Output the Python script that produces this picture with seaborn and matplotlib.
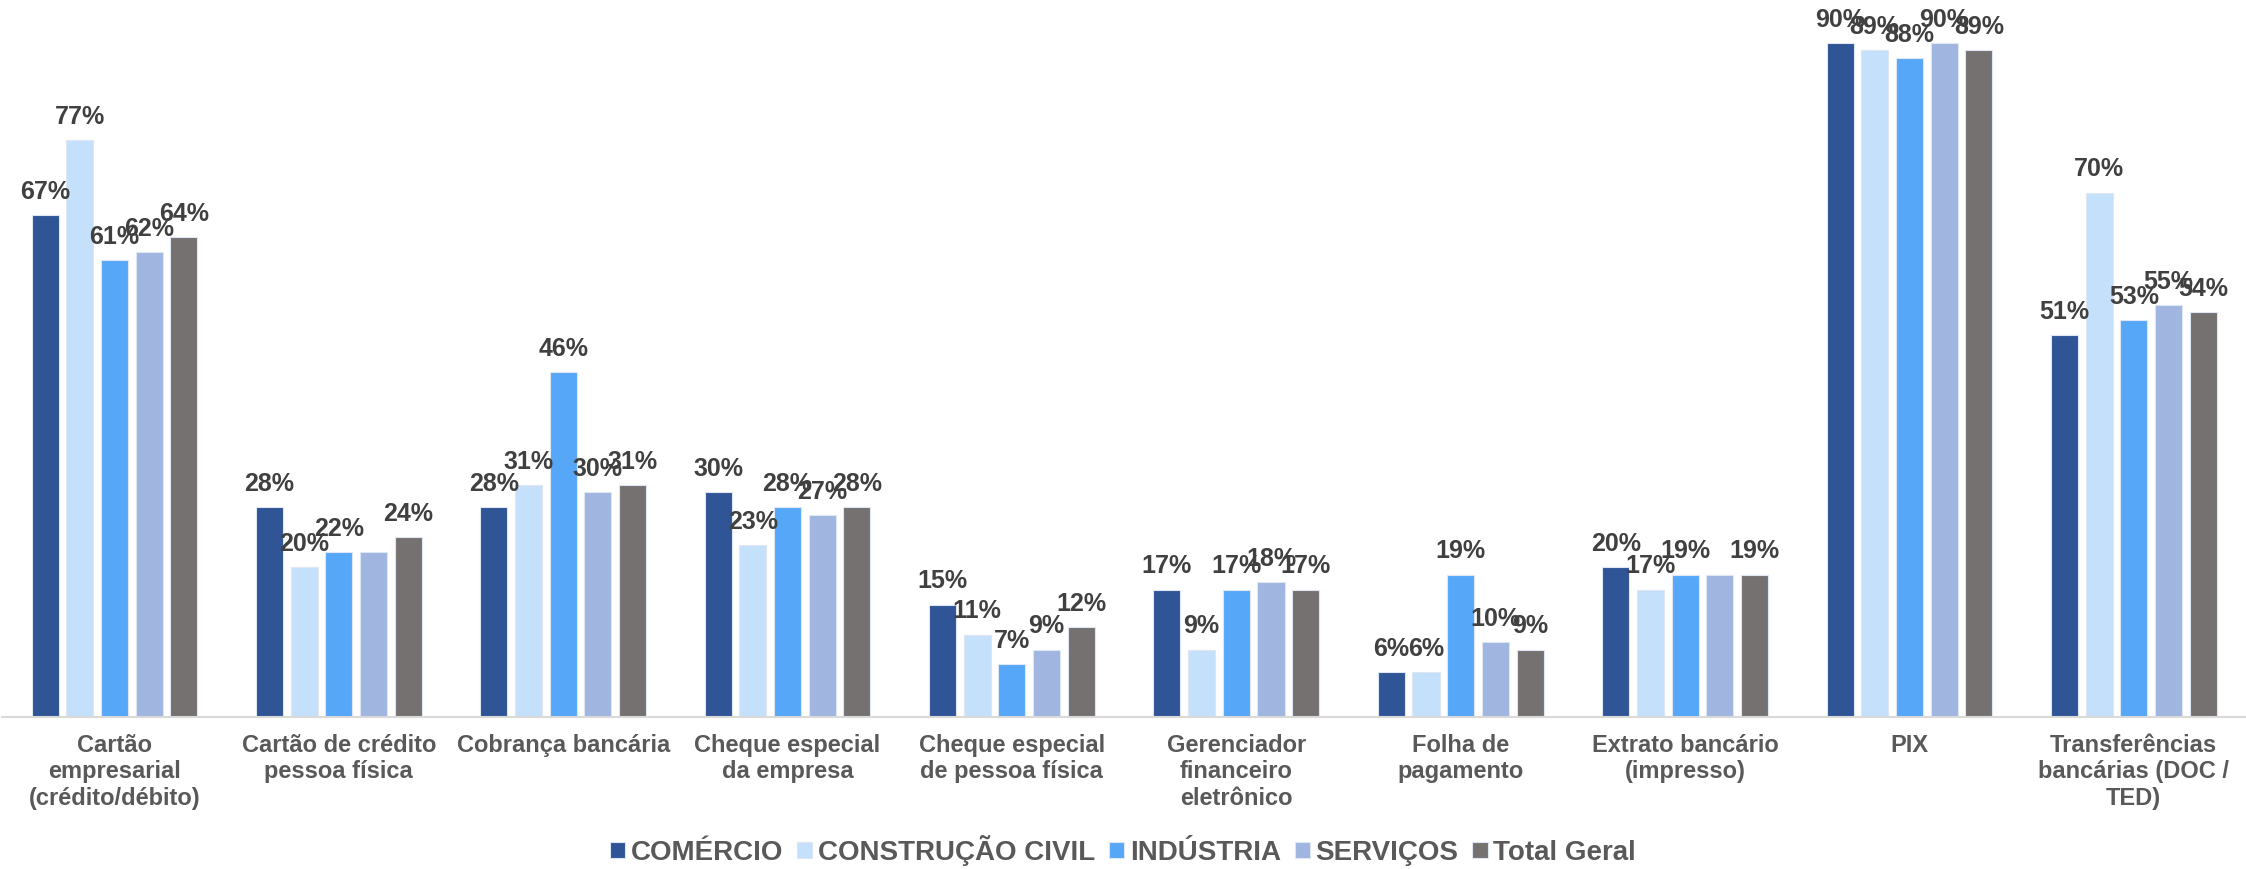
import matplotlib
matplotlib.use('Agg')
import matplotlib.pyplot as plt
from matplotlib.font_manager import FontProperties
import seaborn as sns
import pandas as pd

# 데이터
categories = [
  'Cartão\nempresarial\n(crédito/débito)',
  'Cartão de crédito\npessoa física',
  'Cobrança bancária',
  'Cheque especial\nda empresa',
  'Cheque especial\nde pessoa física',
  'Gerenciador\nfinanceiro\neletrônico',
  'Folha de\npagamento',
  'Extrato bancário\n(impresso)',
  'PIX',
  'Transferências\nbancárias (DOC /\nTED)',
]
series = ['COMÉRCIO', 'CONSTRUÇÃO CIVIL', 'INDÚSTRIA', 'SERVIÇOS', 'Total Geral']
comercio = [67, 28, 28, 30, 15, 17, 6, 20, 90, 51]
construcao = [77, 20, 31, 23, 11, 9, 6, 17, 89, 70]
industria = [61, 22, 46, 28, 7, 17, 19, 19, 88, 53]
servicos = [62, 22, 30, 27, 9, 18, 10, 19, 90, 55]
total = [64, 24, 31, 28, 12, 17, 9, 19, 89, 54]
colors = ['#2F5597', '#C5E0FB', '#56A7F8', '#A0B6E0', '#767171']

# 원본 차트에서 보이지 않는 라벨 (겹쳐서 숨겨진 것)
hidden_labels = [('SERVIÇOS', 1), ('SERVIÇOS', 7)]

values = [comercio, construcao, industria, servicos, total]
rows = []
for s, vals in zip(series, values):
  for c, v in zip(categories, vals):
    rows.append({'cat': c, 'serie': s, 'val': v})
df = pd.DataFrame(rows)

sns.set_style('white')
plt.rcParams['font.family'] = ['Liberation Sans', 'DejaVu Sans']

fig = plt.figure(figsize=(22.46, 8.69), dpi=100)
ax = fig.add_axes([0.001, 0.175, 0.999, 0.825])

sns.barplot(data=df, x='cat', y='val', hue='serie', order=categories, hue_order=series,
            palette=colors, width=0.773, gap=0.22, edgecolor='#dde6f2', linewidth=0.8,
            saturation=1, ax=ax)

# 데이터 라벨
for s, cont in zip(series, ax.containers):
  labels = []
  for i, v in enumerate(values[series.index(s)]):
    labels.append('' if (s, i) in hidden_labels else f'{v}%')
  ax.bar_label(cont, labels=labels, padding=8, fontsize=18, fontweight='bold', color='#404040')

ax.set_xlim(-0.5, 9.5)
ax.set_ylim(0, 95.7)
ax.set_xlabel('')
ax.set_ylabel('')
ax.set_yticks([])
for sp in ['top', 'right', 'left']:
  ax.spines[sp].set_visible(False)
ax.spines['bottom'].set_color('#d9d9d9')
ax.spines['bottom'].set_linewidth(1.5)
ax.set_xticks(range(len(categories)))
ax.set_xticklabels(categories, fontsize=17, fontweight='bold', color='#595959', linespacing=1.2)
ax.tick_params(axis='x', length=0, pad=12)

# 범례
handles, labs = ax.get_legend_handles_labels()
ax.get_legend().remove()
leg_font = FontProperties(family=['Liberation Sans', 'DejaVu Sans'], weight='bold', size=20)
fig.legend(handles, labs, loc='lower center', bbox_to_anchor=(0.5, -0.025), ncol=5, frameon=False,
           handlelength=0.55, handleheight=0.55, handletextpad=0.2, columnspacing=0.5,
           prop=leg_font, labelcolor='#595959')

fig.savefig('out.png', dpi=100)
